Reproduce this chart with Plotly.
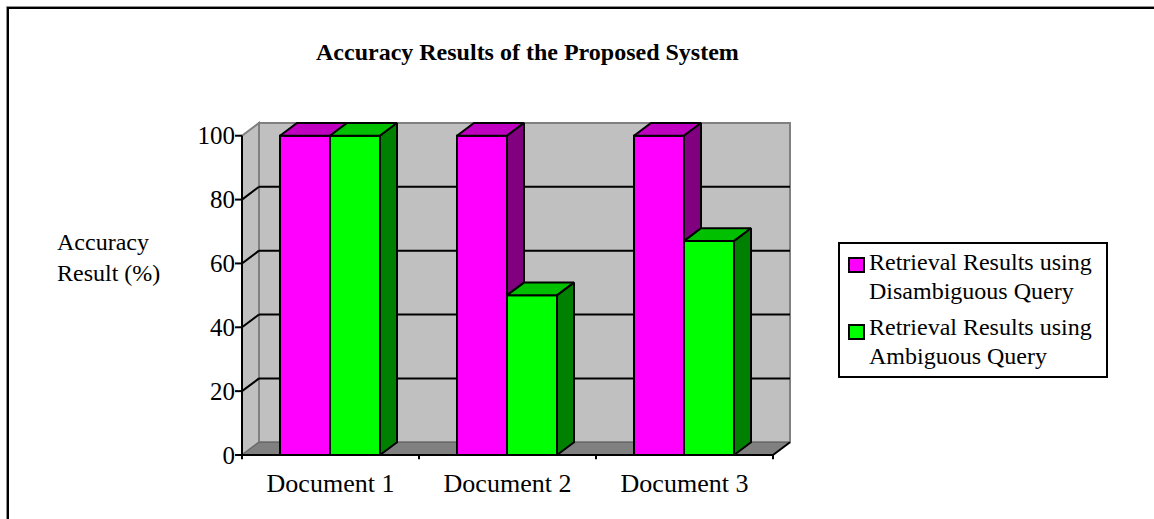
import plotly.graph_objects as go

categories = ["Document 1", "Document 2", "Document 3"]
disambiguous = [100, 100, 100]
ambiguous = [100, 50, 67]
series_names = [["Retrieval Results using", "Disambiguous Query"],
                 ["Retrieval Results using", "Ambiguous Query"]]
y_ticks = [0, 20, 40, 60, 80, 100]
title_text = "Accuracy Results of the Proposed System"
y_title = "Accuracy<br>Result (%)"

# ---- geometry / style (not data) ----
W = 0.2825      # bar width (category units)
OFF = 0.2147    # left offset of first bar inside category
DX = 0.096      # 3D depth offset in x (category units)
DY = 4.0        # 3D depth offset in y (value units)
FRONT = ["#FF00FF", "#00FF00"]
TOP = ["#C000C0", "#00C000"]
SIDE = ["#800080", "#008000"]
WALL = "#C0C0C0"
DARK = "#808080"
FONT = "Liberation Serif, Times New Roman, serif"

L, R, T, B = 236, 363, 121, 54
PW, PH = 1154 - L - R, 519 - T - B
X0, X1 = -0.0339, 3.1017
Y0, Y1 = -3.13, 104.61


def px(x):
    return (x - L) / PW


def py(y):
    return (519 - B - y) / PH


series = [disambiguous, ambiguous]
n = len(categories)
vmax = max(y_ticks)

fig = go.Figure()

# front faces of bars
for k, vals in enumerate(series):
    xs = [i + OFF + k * W + W / 2 for i in range(n)]
    fig.add_trace(go.Bar(x=xs, y=vals, width=W, showlegend=False, hoverinfo="skip",
                         name=" ".join(series_names[k]),
                         marker=dict(color=FRONT[k], line=dict(color="black", width=2))))

# top and side faces
for k, vals in enumerate(series):
    for i, v in enumerate(vals):
        xl = i + OFF + k * W
        xr = xl + W
        fig.add_trace(go.Scatter(
            x=[xl, xr, xr + DX, xl + DX, xl], y=[v, v, v + DY, v + DY, v],
            mode="lines", fill="toself", fillcolor=TOP[k],
            line=dict(color="black", width=2), showlegend=False, hoverinfo="skip"))
        lo = 0
        if k + 1 < len(series):
            lo = series[k + 1][i]
        if lo < v:
            fig.add_trace(go.Scatter(
                x=[xr, xr, xr + DX, xr + DX, xr], y=[lo, v, v + DY, lo + DY, lo],
                mode="lines", fill="toself", fillcolor=SIDE[k],
                line=dict(color="black", width=2), showlegend=False, hoverinfo="skip"))

shapes = []
# back wall
shapes.append(dict(type="rect", xref="x", yref="y", x0=DX, y0=DY, x1=n + DX, y1=vmax + DY,
                   fillcolor=WALL, line=dict(color=DARK, width=2), layer="below"))
# left wall
shapes.append(dict(type="path", xref="x", yref="y",
                   path=f"M 0,0 L {DX},{DY} L {DX},{vmax + DY} L 0,{vmax} Z",
                   fillcolor=WALL, line=dict(color=DARK, width=2), layer="below"))
# floor
shapes.append(dict(type="path", xref="x", yref="y",
                   path=f"M 0,0 L {n},0 L {n + DX},{DY} L {DX},{DY} Z",
                   fillcolor=DARK, line=dict(color="#606060", width=1), layer="below"))
# gridlines
for v in y_ticks[1:-1]:
    shapes.append(dict(type="line", xref="x", yref="y", x0=DX, y0=v + DY, x1=n + DX, y1=v + DY,
                       line=dict(color="black", width=2), layer="below"))
    shapes.append(dict(type="line", xref="x", yref="y", x0=0, y0=v, x1=DX, y1=v + DY,
                       line=dict(color="black", width=2), layer="below"))
# axes
shapes.append(dict(type="line", xref="x", yref="y", x0=0, y0=0, x1=0, y1=vmax,
                   line=dict(color="black", width=2)))
shapes.append(dict(type="line", xref="x", yref="y", x0=0, y0=0, x1=n, y1=0,
                   line=dict(color="black", width=2)))
shapes.append(dict(type="line", xref="x", yref="y", x0=n, y0=0, x1=n + DX, y1=DY,
                   line=dict(color="black", width=2)))
for i in range(n + 1):
    shapes.append(dict(type="line", xref="x", yref="y", x0=i, y0=0, x1=i, y1=-1.3,
                       line=dict(color="black", width=2)))
for v in y_ticks:
    shapes.append(dict(type="line", xref="paper", yref="y", x0=px(235), y0=v, x1=px(242), y1=v,
                       line=dict(color="black", width=2)))
# outer frame
shapes.append(dict(type="rect", xref="paper", yref="paper",
                   x0=px(6.5), y0=py(560), x1=px(1180), y1=py(6.5),
                   line=dict(color="#909090", width=1), fillcolor="rgba(0,0,0,0)"))
shapes.append(dict(type="rect", xref="paper", yref="paper",
                   x0=px(8), y0=py(560), x1=px(1180), y1=py(8),
                   line=dict(color="black", width=2), fillcolor="rgba(0,0,0,0)"))

annotations = [
    dict(text=f"<b>{title_text}</b>", xref="paper", yref="paper",
         x=px(527), y=py(52), xanchor="center", yanchor="middle",
         showarrow=False, font=dict(family=FONT, size=24, color="black")),
    dict(text=y_title, xref="paper", yref="paper", x=px(55), y=py(257),
         xanchor="left", yanchor="middle", align="left", showarrow=False,
         font=dict(family=FONT, size=24, color="black")),
]

# legend (box, swatches and text)
shapes.append(dict(type="rect", xref="paper", yref="paper",
                   x0=px(839), y0=py(377), x1=px(1107), y1=py(243),
                   line=dict(color="black", width=2), fillcolor="white"))
leg_line_y = [[262, 291], [327, 356]]
swatch_y = [265, 332]
for k in range(len(series)):
    shapes.append(dict(type="rect", xref="paper", yref="paper",
                       x0=px(849), y0=py(swatch_y[k] + 7), x1=px(864), y1=py(swatch_y[k] - 7),
                       line=dict(color="black", width=2), fillcolor=FRONT[k]))
    for j, line in enumerate(series_names[k]):
        annotations.append(dict(text=line, xref="paper", yref="paper", x=px(867),
                                y=py(leg_line_y[k][j]), xanchor="left", yanchor="middle",
                                showarrow=False, font=dict(family=FONT, size=24, color="black")))

fig.update_layout(
    width=1154, height=519, margin=dict(l=L, r=R, t=T, b=B, autoexpand=False),
    paper_bgcolor="white", plot_bgcolor="white", barmode="overlay",
    shapes=shapes, annotations=annotations, showlegend=False,
    font=dict(family=FONT, size=24, color="black"),
    xaxis=dict(range=[X0, X1], showgrid=False, zeroline=False, showline=False,
               tickmode="array", tickvals=[i + 0.5 for i in range(n)], ticktext=categories,
               ticks="", tickfont=dict(family=FONT, size=26, color="black"), fixedrange=True),
    yaxis=dict(range=[Y0, Y1], showgrid=False, zeroline=False, showline=False,
               tickmode="array", tickvals=y_ticks, ticktext=[str(v) for v in y_ticks],
               ticks="", tickfont=dict(family=FONT, size=25, color="black"), fixedrange=True),
)

fig.write_html("out.html")
